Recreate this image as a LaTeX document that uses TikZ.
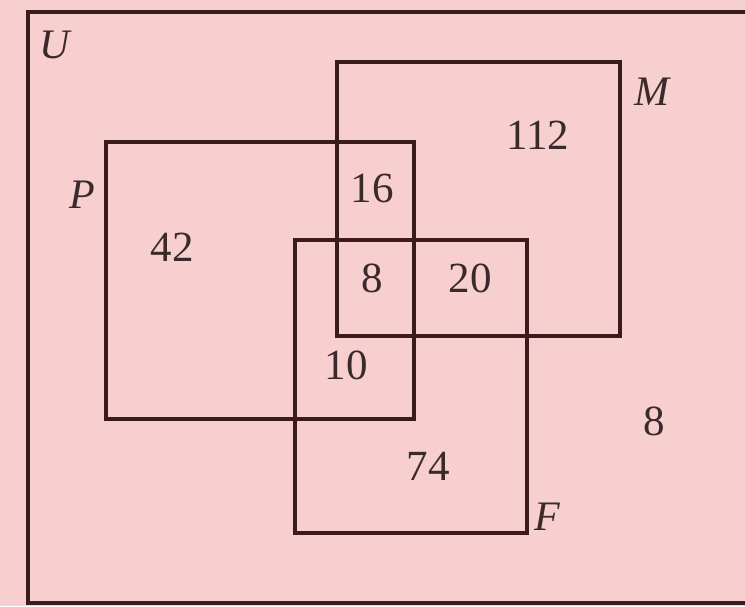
\documentclass[tikz,border=0pt]{standalone}
\usepackage{fontspec}
\setmainfont{Liberation Serif}
\definecolor{bg}{HTML}{F8CFCF}
\definecolor{ln}{HTML}{3A1C1E}
\definecolor{tx}{HTML}{3A2A2C}
\begin{document}
\begin{tikzpicture}[x=1pt,y=-1pt,
  setbox/.style={draw=ln,line width=4.5pt},
  num/.style={text=tx,font=\fontsize{43}{50}\selectfont,inner sep=0pt},
  lab/.style={text=tx,font=\fontsize{42}{50}\selectfont\itshape,inner sep=0pt}]
\fill[bg] (0,0) rectangle (745,606);
\useasboundingbox (0,0) rectangle (745,606);
\draw[setbox] (28,12) rectangle (760,603);
\draw[setbox] (337,62) rectangle (620,336);
\draw[setbox] (106,142) rectangle (414,419);
\draw[setbox] (295,240) rectangle (527,533);
\node[lab] (u) at (55,45) {U};
\node[lab] (m) at (652,92) {M};
\node[lab] (p) at (82,195) {P};
\node[lab] (f) at (547,517) {F};
\node[num] (n112) at (538,135) {112};
\node[num] (n42) at (172,247) {42};
\node[num] (n16) at (372,188) {16};
\node[num] (n8a) at (372,278) {8};
\node[num] (n20) at (470,278) {20};
\node[num] (n10) at (346,365) {10};
\node[num] (n74) at (428,466) {74};
\node[num] (n8b) at (654,421) {8};
\end{tikzpicture}
\end{document}
